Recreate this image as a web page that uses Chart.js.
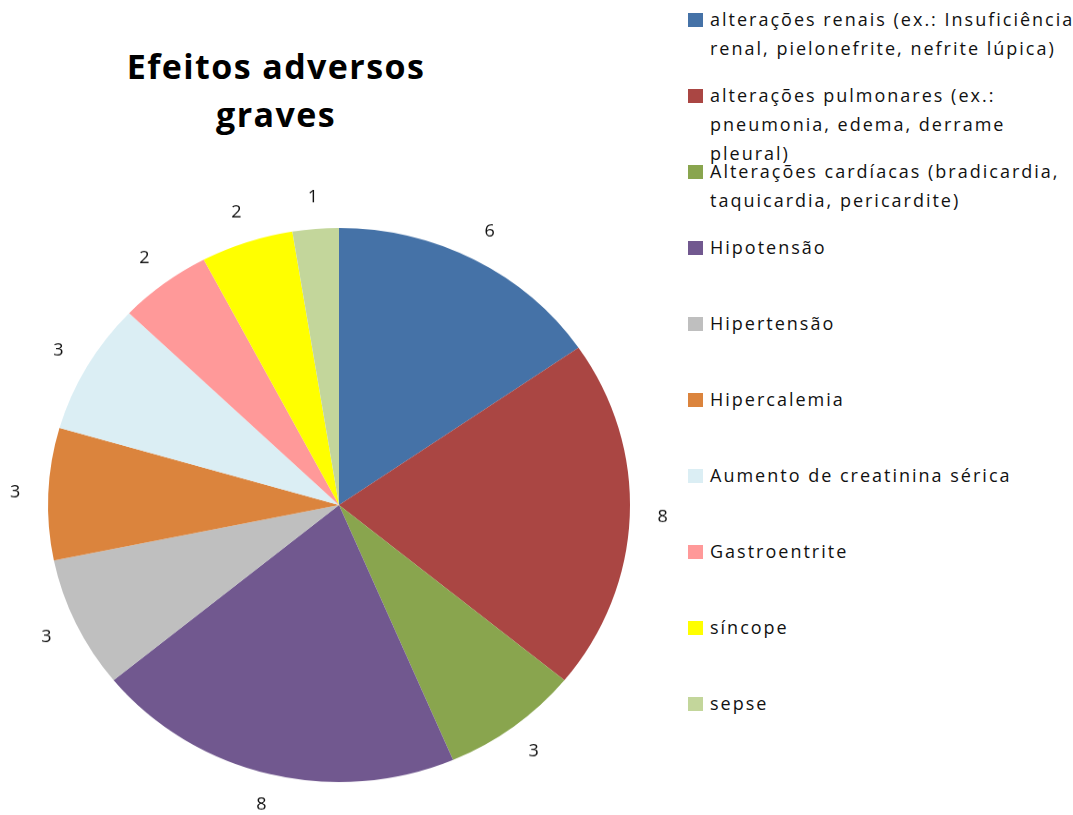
<!DOCTYPE html>
<html>
<head>
<meta charset="utf-8">
<script src="https://cdn.jsdelivr.net/npm/chart.js@4/dist/chart.umd.min.js"></script>
<style>
  html, body { margin: 0; padding: 0; background: #fff; }
  body { width: 1073px; height: 815px; position: relative; overflow: hidden; font-family: "Open Sans", sans-serif; }
  #title {
    position: absolute; left: 76px; top: 42px; width: 400px; text-align: center;
    font-weight: bold; font-size: 34px; line-height: 48px; letter-spacing: 1.4px; color: #000;
  }
  #pie-wrap {
    position: absolute; left: -1px; top: 165px; width: 680px; height: 680px;
    transform: scaleY(0.952); transform-origin: 340px 340px;
  }
  #legend { position: absolute; left: 688px; top: 0; }
  .leg-item { position: absolute; left: 0; white-space: nowrap; }
  .leg-box { position: absolute; left: 0; width: 15px; height: 14px; }
  .leg-text {
    position: absolute; left: 22px; top: 0; font-size: 18px; line-height: 29px;
    letter-spacing: 2px; color: #111;
  }
</style>
</head>
<body>
<div id="title">Efeitos adversos<br>graves</div>
<div id="pie-wrap"><canvas id="pie" width="680" height="680"></canvas></div>
<div id="legend"></div>
<script>
  const labels = [
    ['alterações renais (ex.: Insuficiência', 'renal, pielonefrite, nefrite lúpica)'],
    ['alterações pulmonares (ex.:', 'pneumonia, edema, derrame', 'pleural)'],
    ['Alterações cardíacas (bradicardia,', 'taquicardia, pericardite)'],
    ['Hipotensão'],
    ['Hipertensão'],
    ['Hipercalemia'],
    ['Aumento de creatinina sérica'],
    ['Gastroentrite'],
    ['síncope'],
    ['sepse']
  ];
  const values = [6, 8, 3, 8, 3, 3, 3, 2, 2, 1];
  const colors = ['#4572A7', '#AA4643', '#89A54E', '#71588F', '#BFBFBF',
                  '#DB843D', '#DBEEF4', '#FF9999', '#FFFF00', '#C3D69B'];

  // legend, one row every 76px
  const legendEl = document.getElementById('legend');
  legendEl.innerHTML = labels.map((l, i) => {
    const cy = 20 + 76 * i;
    return `<div class="leg-item" style="top:${cy}px">
      <div class="leg-box" style="top:-7px;background:${colors[i]}"></div>
      <div class="leg-text" style="top:-15px">${l.join('<br>')}</div>
    </div>`;
  }).join('');

  // value labels just outside each slice
  const outsideLabels = {
    id: 'outsideLabels',
    afterDatasetsDraw(chart) {
      const ctx = chart.ctx;
      const meta = chart.getDatasetMeta(0);
      ctx.save();
      ctx.font = '18px "Open Sans", sans-serif';
      ctx.fillStyle = '#111';
      ctx.textAlign = 'center';
      ctx.textBaseline = 'middle';
      meta.data.forEach((arc, i) => {
        const p = arc.getProps(['x', 'y', 'startAngle', 'endAngle', 'outerRadius'], true);
        const mid = (p.startAngle + p.endAngle) / 2;
        const r = p.outerRadius + 33;
        ctx.fillText(String(values[i]), p.x + Math.cos(mid) * r, p.y + Math.sin(mid) * r);
      });
      ctx.restore();
    }
  };

  new Chart(document.getElementById('pie'), {
    type: 'pie',
    data: {
      labels: labels.map(l => l.join(' ')),
      datasets: [{
        data: values,
        backgroundColor: colors,
        borderWidth: 0
      }]
    },
    options: {
      responsive: false,
      devicePixelRatio: 1,
      animation: false,
      layout: { padding: 49 },
      plugins: { legend: { display: false }, tooltip: { enabled: false } }
    },
    plugins: [outsideLabels]
  });
</script>
</body>
</html>
